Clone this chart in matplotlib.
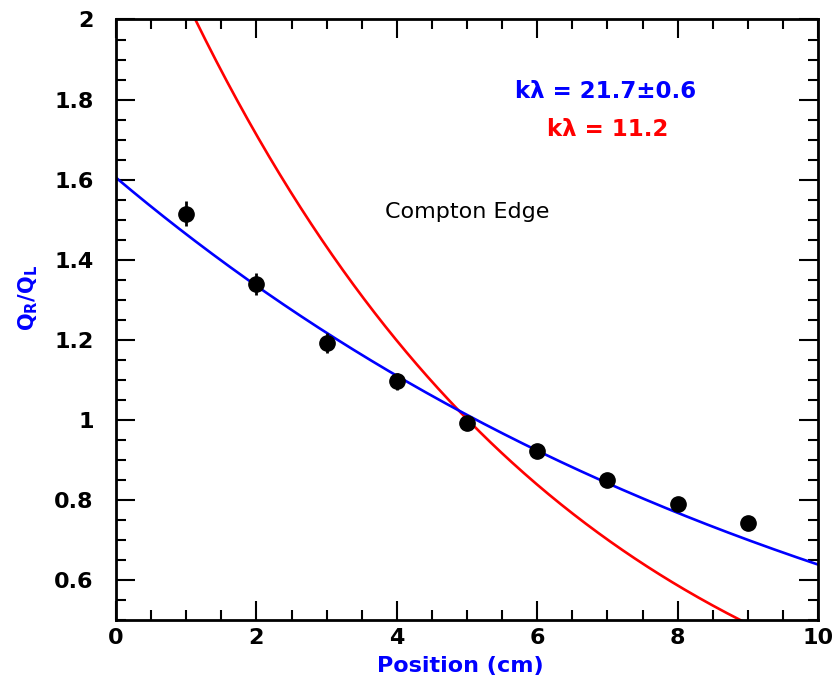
import numpy as np
import matplotlib
matplotlib.use("Agg")
import matplotlib.pyplot as plt
from matplotlib.ticker import MultipleLocator, FixedLocator

# data points
positions = [1, 2, 3, 4, 5, 6, 7, 8, 9]
ratios = [1.515, 1.34, 1.192, 1.096, 0.992, 0.921, 0.850, 0.790, 0.743]
errors = [0.031, 0.028, 0.025, 0.022, 0.018, 0.017, 0.015, 0.014, 0.013]

# fit curves: Q_R/Q_L = A * exp(-2 x / klambda)
fit_blue_A, fit_blue_kl = 1.605, 21.7
fit_red_A, fit_red_kl = 2.447, 11.2

xticks = [0, 2, 4, 6, 8, 10]
yticks = [0.6, 0.8, 1.0, 1.2, 1.4, 1.6, 1.8, 2.0]
ytick_labels = ["0.6", "0.8", "1", "1.2", "1.4", "1.6", "1.8", "2"]

plt.rcParams['font.family'] = ['DejaVu Sans']
plt.rcParams['mathtext.fontset'] = 'dejavusans'

fig = plt.figure(figsize=(8.37, 6.89), dpi=100)
ax = fig.add_axes([0.1386, 0.1001, 0.9773 - 0.1386, 0.9717 - 0.1001])

xs = np.linspace(0, 10, 400)
ax.plot(xs, fit_red_A * np.exp(-2 * xs / fit_red_kl), color='#ff0000', lw=1.9, zorder=2)
ax.plot(xs, fit_blue_A * np.exp(-2 * xs / fit_blue_kl), color='#0000ff', lw=1.9, zorder=2)
ax.errorbar(positions, ratios, yerr=errors, fmt='o', color='black', ms=11,
            elinewidth=2, capsize=0, zorder=3)

ax.set_xlim(0, 10)
ax.set_ylim(0.5, 2.0)
ax.xaxis.set_major_locator(FixedLocator(xticks))
ax.xaxis.set_minor_locator(MultipleLocator(0.5))
ax.yaxis.set_major_locator(FixedLocator(yticks))
ax.yaxis.set_minor_locator(MultipleLocator(0.05))
ax.set_xticklabels([str(t) for t in xticks])
ax.set_yticklabels(ytick_labels)

ax.tick_params(which='both', direction='in', top=True, right=True, width=1.5)
ax.tick_params(which='major', length=14, labelsize=16)
ax.tick_params(axis='x', which='major', pad=6)
ax.tick_params(axis='y', which='major', pad=16)
ax.tick_params(which='minor', length=7)
for lab in ax.get_xticklabels() + ax.get_yticklabels():
    lab.set_fontweight('bold')
for s in ax.spines.values():
    s.set_linewidth(2)

ax.set_xlabel('Position (cm)', color='#0000ff', fontsize=16, fontweight='bold')
ax.xaxis.set_label_coords(0.49, -0.06)
ax.text(-0.125, 0.537, r'$\mathbf{Q_R/Q_L}$', color='#0000ff', fontsize=15,
        rotation=90, ha='center', va='center', transform=ax.transAxes)

ax.text(6.98, 1.82, 'kλ = 21.7±0.6', color='#0000ff', fontsize=16.5, fontweight='bold',
        ha='center', va='center')
ax.text(7.0, 1.725, 'kλ = 11.2', color='#ff0000', fontsize=16.5, fontweight='bold',
        ha='center', va='center')
ax.text(5.0, 1.52, 'Compton Edge', color='black', fontsize=16, ha='center', va='center')

fig.savefig('out.png', dpi=100)
